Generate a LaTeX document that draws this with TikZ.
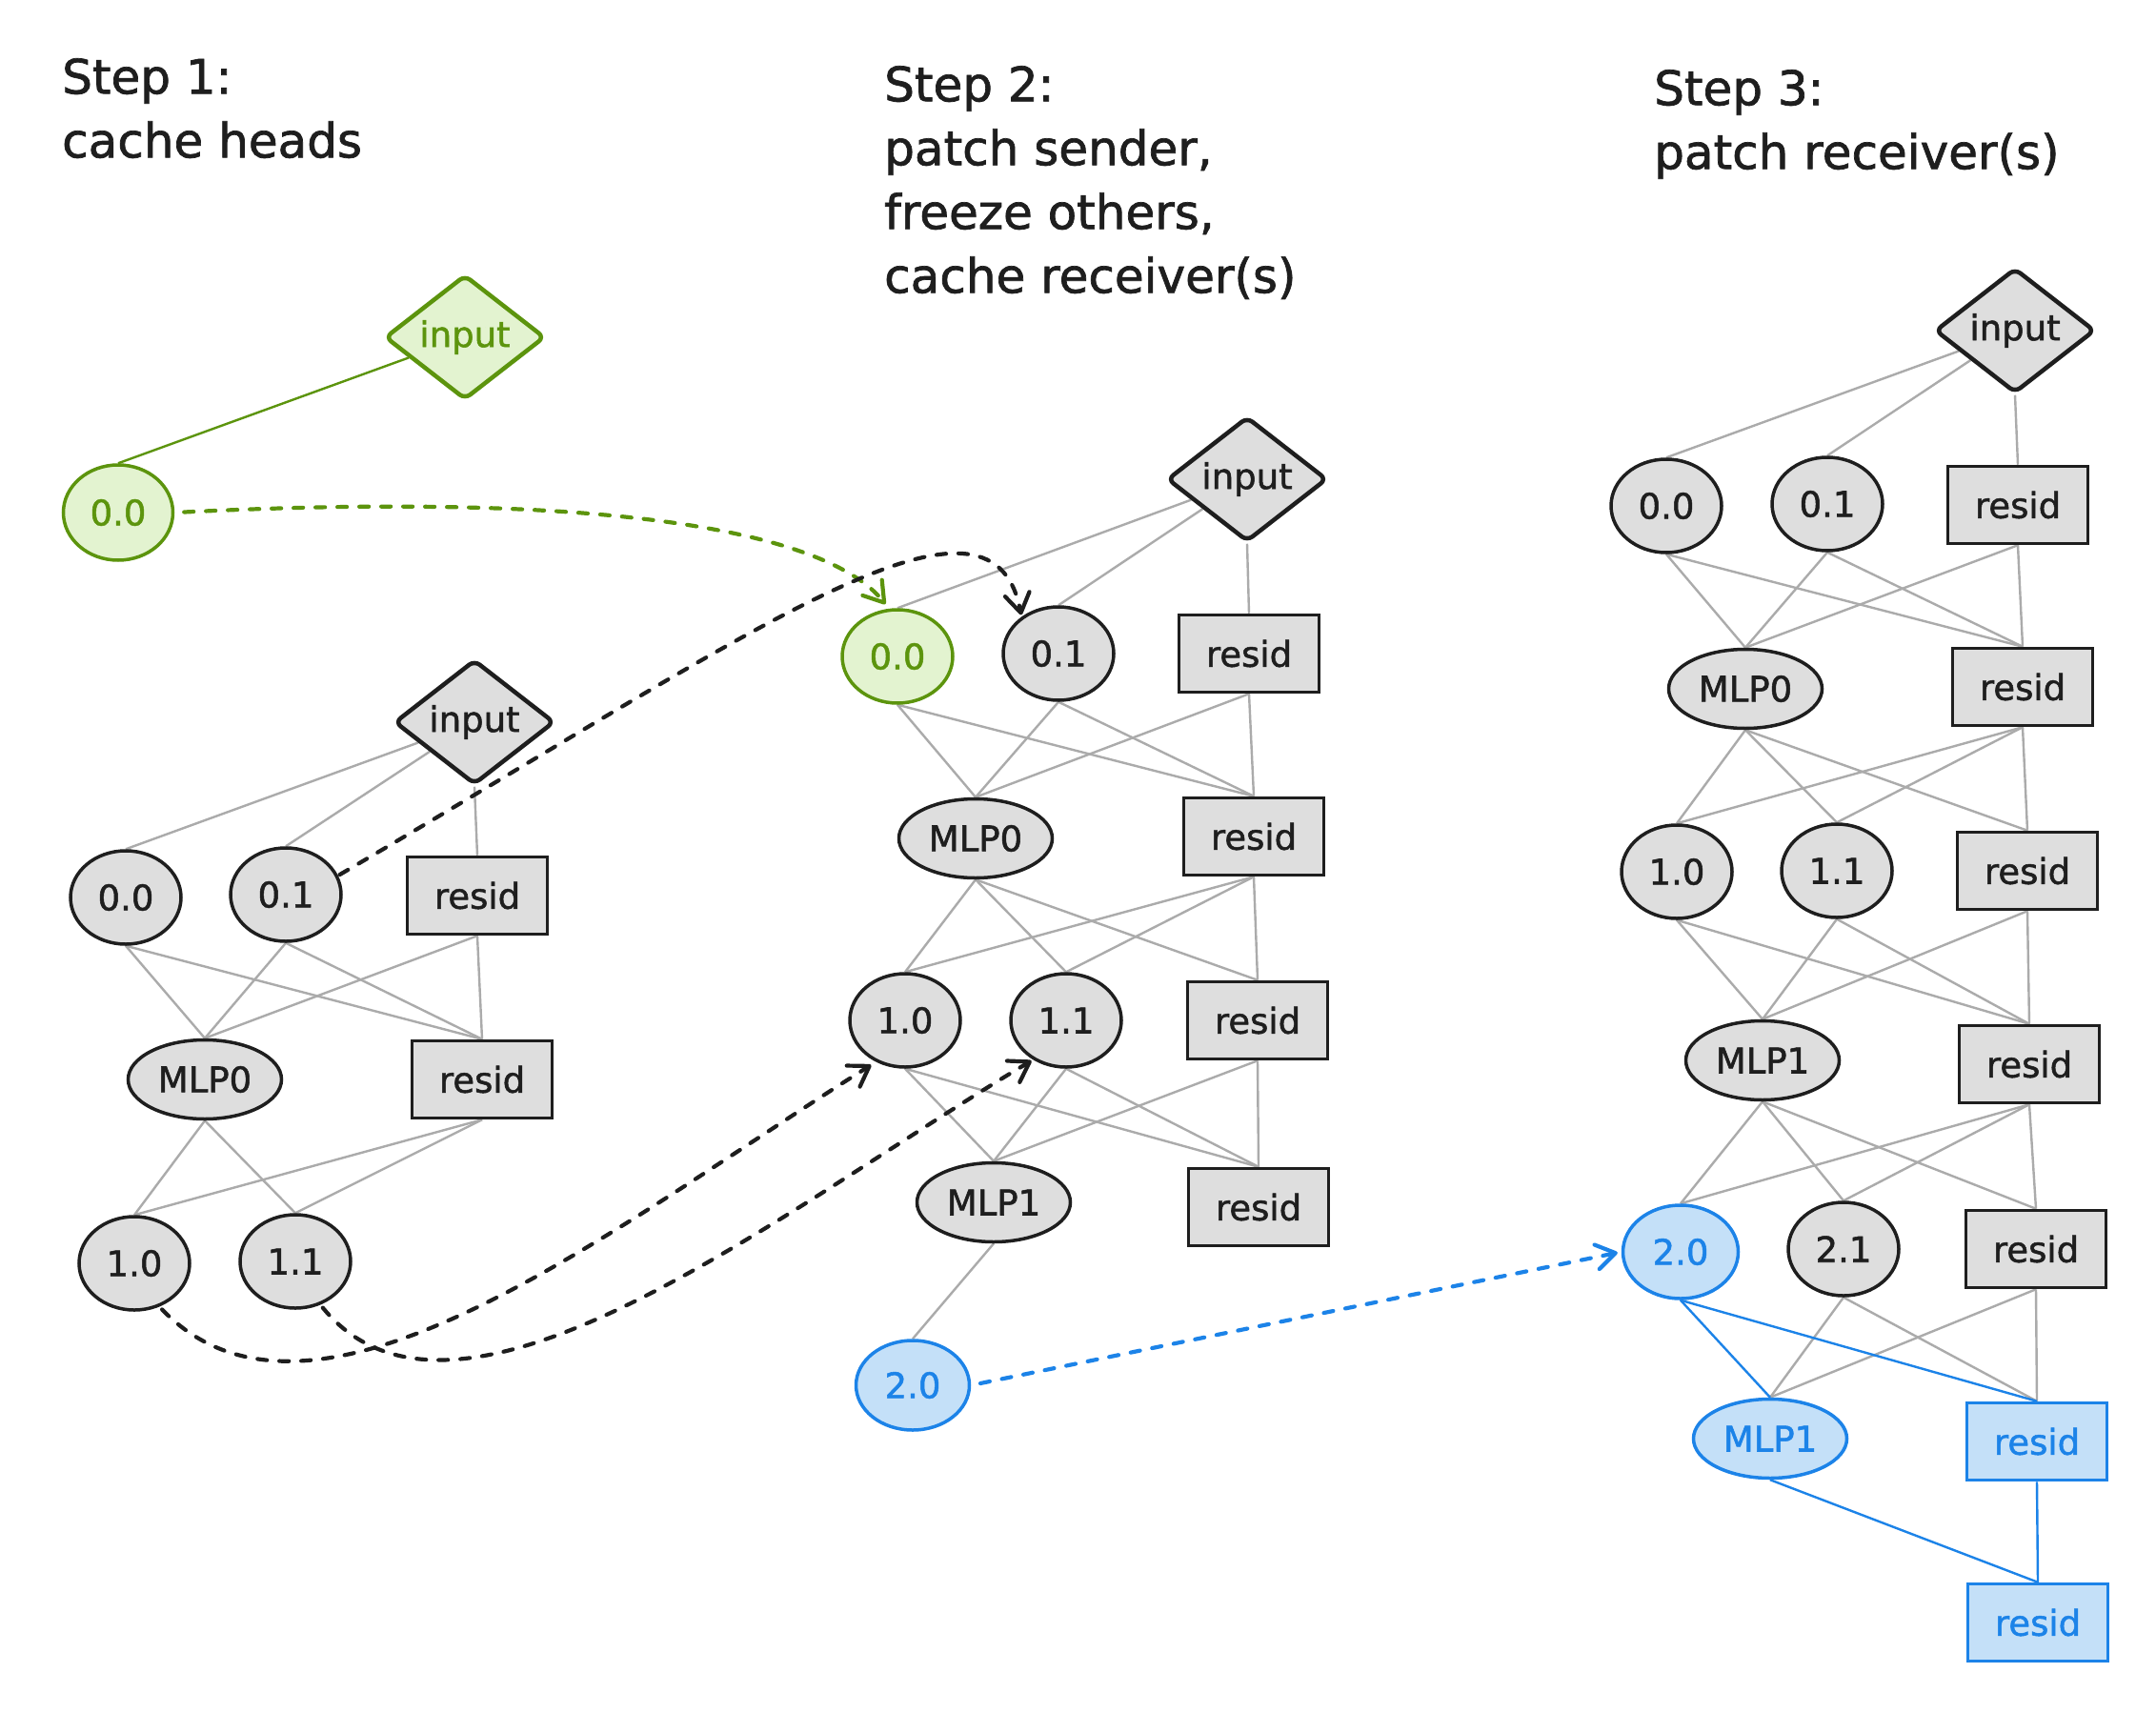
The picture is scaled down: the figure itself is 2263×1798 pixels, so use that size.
\documentclass[tikz,border=0pt]{standalone}
\usepackage{fontspec}
\setmainfont{DejaVu Sans}[BoldFont=DejaVu Sans, BoldFeatures={FakeBold=1.4}]
\usetikzlibrary{shapes.geometric,arrows.meta,backgrounds}

\definecolor{inkblack}{HTML}{1E1E1E}
\definecolor{nodegrey}{HTML}{DEDEDE}
\definecolor{edgegrey}{HTML}{ABABAB}
\definecolor{leafgreen}{HTML}{5C940D}
\definecolor{leafgreenfill}{HTML}{E3F3D0}
\definecolor{skyblue}{HTML}{1C83E8}
\definecolor{skybluefill}{HTML}{C4E0F8}

\tikzset{
  headtext/.style={anchor=north west, align=left, inner sep=0pt,
    font=\fontsize{50}{67}\selectfont\bfseries, text=inkblack},
  unitbase/.style={draw=inkblack, fill=nodegrey, line width=3.5pt, inner sep=0pt,
    font=\fontsize{37}{42}\selectfont\bfseries, text=inkblack},
  attnnode/.style={unitbase, ellipse, minimum width=116pt, minimum height=98pt},
  mlpnode/.style={unitbase, ellipse, minimum width=161pt, minimum height=83pt},
  residnode/.style={unitbase, rectangle, minimum width=147pt, minimum height=81pt},
  inputnode/.style={unitbase, diamond, minimum width=168pt, minimum height=97pt,
    line width=4.5pt, rounded corners=7pt},
  sentnode/.style={draw=leafgreen, fill=leafgreenfill, text=leafgreen},
  patchnode/.style={draw=skyblue, fill=skybluefill, text=skyblue},
  wire/.style={draw=edgegrey, line width=2.4pt},
  greenwire/.style={draw=leafgreen, line width=2.4pt},
  bluewire/.style={draw=skyblue, line width=2.4pt},
  transfer/.style={line width=4.2pt, line cap=round, dash pattern=on 10pt off 13pt,
    -{Straight Barb[length=20pt,width=26pt,round]}},
}

\begin{document}
\begin{tikzpicture}[x=1pt,y=-1pt]
\useasboundingbox (0,0) rectangle (2263,1798);

% headings
\node[headtext] (h1) at (65,61) {Step 1:\\cache heads};
\node[headtext] (h2) at (928,69) {Step 2:\\patch sender,\\freeze others,\\cache receiver(s)};
\node[headtext] (h3) at (1736,73) {Step 3:\\patch receiver(s)};

% step 1: clean run, heads cached
\node[inputnode, sentnode] (gin) at (488,354) {input};
\node[attnnode, sentnode, minimum width=115pt, minimum height=100pt] (g00) at (124,538) {0.0};

\node[inputnode] (ain) at (498,758) {input};
\node[attnnode] (a00) at (132,942) {0.0};
\node[attnnode] (a01) at (300,939) {0.1};
\node[residnode] (ar0) at (501,940) {resid};
\node[mlpnode] (am0) at (215,1133) {MLP0};
\node[residnode] (ar1) at (506,1133) {resid};
\node[attnnode] (a10) at (141,1326) {1.0};
\node[attnnode] (a11) at (310,1324) {1.1};

% step 2: sender patched, others frozen
\node[inputnode] (bin) at (1309,503) {input};
\node[attnnode, sentnode] (b00) at (942,689) {0.0};
\node[attnnode] (b01) at (1111,686) {0.1};
\node[residnode] (br0) at (1311,686) {resid};
\node[mlpnode] (bm0) at (1024,880) {MLP0};
\node[residnode] (br1) at (1316,878) {resid};
\node[attnnode] (b10) at (950,1071) {1.0};
\node[attnnode] (b11) at (1119,1071) {1.1};
\node[residnode] (br2) at (1320,1071) {resid};
\node[mlpnode] (bm1) at (1043,1262) {MLP1};
\node[residnode] (br3) at (1321,1267) {resid};
\node[attnnode, patchnode, minimum width=119pt, minimum height=94pt] (b20) at (958,1454) {2.0};

% step 3: receiver patched
\node[inputnode] (cin) at (2115,347) {input};
\node[attnnode] (c00) at (1749,531) {0.0};
\node[attnnode] (c01) at (1918,529) {0.1};
\node[residnode] (cr0) at (2118,530) {resid};
\node[mlpnode] (cm0) at (1832,723) {MLP0};
\node[residnode] (cr1) at (2123,721) {resid};
\node[attnnode] (c10) at (1760,915) {1.0};
\node[attnnode] (c11) at (1928,914) {1.1};
\node[residnode] (cr2) at (2128,914) {resid};
\node[mlpnode] (cm1) at (1850,1113) {MLP1};
\node[residnode] (cr3) at (2130,1117) {resid};
\node[attnnode, patchnode, minimum width=121pt] (c20) at (1764,1314) {2.0};
\node[attnnode] (c21) at (1935,1311) {2.1};
\node[residnode] (cr4) at (2137,1311) {resid};
\node[mlpnode, patchnode] (cm2) at (1858,1510) {MLP1};
\node[residnode, patchnode] (cr5) at (2138,1513) {resid};
\node[residnode, patchnode] (cr6) at (2139,1703) {resid};

% connections between layers, drawn behind the nodes
\begin{scope}[on background layer]
  \fill[white] (0,0) rectangle (2263,1798);
  \draw[greenwire] (gin) -- (g00.north);

  \draw[wire] (ain) -- (a00.north);
  \draw[wire] (ain) -- (a01.north);
  \draw[wire] (ain.south) -- (ar0.north);
  \foreach \s in {a00,a01,ar0} \foreach \t in {am0,ar1} \draw[wire] (\s.south) -- (\t.north);
  \foreach \s in {am0,ar1} \foreach \t in {a10,a11} \draw[wire] (\s.south) -- (\t.north);

  \draw[wire] (bin) -- (b00.north);
  \draw[wire] (bin) -- (b01.north);
  \draw[wire] (bin.south) -- (br0.north);
  \foreach \s in {b00,b01,br0} \foreach \t in {bm0,br1} \draw[wire] (\s.south) -- (\t.north);
  \foreach \s in {bm0,br1} \foreach \t in {b10,b11,br2} \draw[wire] (\s.south) -- (\t.north);
  \foreach \s in {b10,b11,br2} \foreach \t in {bm1,br3} \draw[wire] (\s.south) -- (\t.north);
  \draw[wire] (bm1.south) -- (b20.north);

  \draw[wire] (cin) -- (c00.north);
  \draw[wire] (cin) -- (c01.north);
  \draw[wire] (cin.south) -- (cr0.north);
  \foreach \s in {c00,c01,cr0} \foreach \t in {cm0,cr1} \draw[wire] (\s.south) -- (\t.north);
  \foreach \s in {cm0,cr1} \foreach \t in {c10,c11,cr2} \draw[wire] (\s.south) -- (\t.north);
  \foreach \s in {c10,c11,cr2} \foreach \t in {cm1,cr3} \draw[wire] (\s.south) -- (\t.north);
  \foreach \s in {cm1,cr3} \foreach \t in {c20,c21,cr4} \draw[wire] (\s.south) -- (\t.north);
  \foreach \s in {c21,cr4} \foreach \t in {cm2,cr5} \draw[wire] (\s.south) -- (\t.north);
  \foreach \t in {cm2,cr5} \draw[bluewire] (c20.south) -- (\t.north);
  \foreach \s in {cm2,cr5} \draw[bluewire] (\s.south) -- (cr6.north);
\end{scope}

% activations carried between runs
\draw[transfer, leafgreen, shorten <=10pt, shorten >=6pt]
  (g00.east) .. controls (650,515) and (870,560) .. (b00.100);
\draw[transfer, inkblack, shorten <=2pt, shorten >=2pt]
  (a01.20) .. controls (790,665) and (1040,480) .. (b01.135);
\draw[transfer, inkblack, shorten <=4pt, shorten >=6pt]
  (a10.-60) .. controls (330,1540) and (640,1290) .. (b10.-125);
\draw[transfer, inkblack, shorten <=4pt, shorten >=2pt]
  (a11.-60) .. controls (480,1545) and (820,1270) .. (b11.-130);
\draw[transfer, skyblue, shorten <=10pt, shorten >=4pt] (b20.east) -- (c20.west);
\end{tikzpicture}
\end{document}
